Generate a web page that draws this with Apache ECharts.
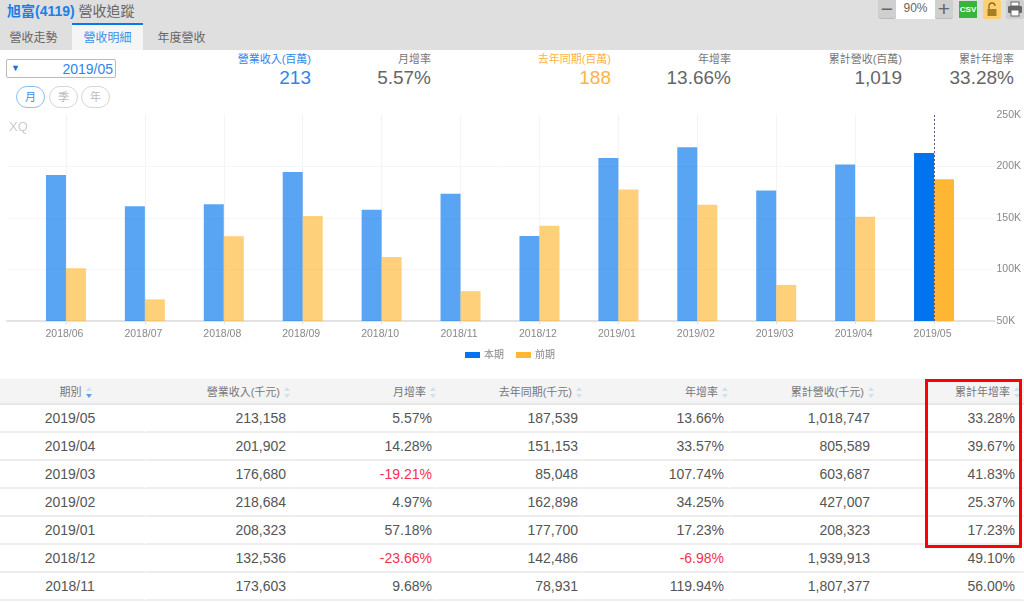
<!DOCTYPE html>
<html>
<head>
<meta charset="utf-8">
<script src="https://cdn.jsdelivr.net/npm/echarts@6/dist/echarts.min.js"></script>
<style>
html, body { margin: 0; padding: 0; background: #fff; }
body { width: 1024px; height: 602px; overflow: hidden; position: relative; color: #555;
	font-family: "Liberation Sans", "Noto Sans CJK TC", sans-serif; }
.abs { position: absolute; white-space: nowrap; }
#top { left: 0; top: 0; width: 1024px; height: 50px; background: #dfdfdf; }
#title { left: 7px; top: 1px; font-size: 14px; line-height: 20px; color: #666; }
#title b { color: #1a7fe8; font-weight: bold; }
.tab { top: 25px; height: 25px; line-height: 26px; font-size: 12px; color: #666; text-align: center; }
#tabOn { left: 72px; top: 23px; width: 71px; height: 25px; background: #f5f5f5; border-top: 2px solid #0a78ec; color: #3c8fe8; }
.btn { top: 0; height: 18px; line-height: 17px; text-align: center; background: #cfcfcf; border-radius: 0 0 3px 3px; border-bottom: 1px solid #bbb; }
#datebox { left: 6px; top: 59px; width: 106px; height: 17px; padding-right: 2px; border: 1px solid #bbb; border-radius: 2px; color: #2f86ea;
	font-size: 14px; line-height: 18px; text-align: right; }
#datebox span { position: absolute; left: 4px; top: 0; font-size: 9px; line-height: 16px; color: #1a6fd8; }
.pill { top: 86px; width: 27px; height: 20px; line-height: 20px; border: 1px solid #d6d6d6; border-radius: 11px; font-size: 11px; color: #bbb; text-align: center; }
.kl { top: 51px; font-size: 11px; line-height: 16px; color: #777; text-align: right; }
.kv { top: 67px; font-size: 19px; line-height: 22px; color: #666; text-align: right; }
#chart { left: 0; top: 108px; width: 1024px; height: 262px; }
#tbl { left: 0; top: 379px; border-collapse: separate; border-spacing: 0; table-layout: fixed; width: 1024px; }
#tbl th { height: 24px; padding: 0 1px 0 0; background: #f4f4f4; border-bottom: 2px solid #e8e8e8; font-size: 11px; font-weight: normal; color: #777; text-align: right; }
#tbl td { height: 26px; padding: 0 4px 0 0; border-bottom: 2px solid #eeeeee; border-right: 1px solid #fff; font-size: 14px; color: #555; text-align: right; }
#tbl th:first-child { text-align: center; padding: 0 0 0 6px; }
#tbl td:first-child { text-align: center; padding: 0 4px 0 0; }
#tbl th:last-child { padding-right: 4px; }
#tbl td:last-child { padding-right: 8px; }
#tbl td.neg { color: #f5304f; }
.sort { display: inline-block; width: 6px; height: 11px; position: relative; margin-left: 4px; vertical-align: -2px; }
.sort:before, .sort:after { content: ""; position: absolute; left: 0; border-left: 3px solid transparent; border-right: 3px solid transparent; }
.sort:before { top: 0; border-bottom: 4px solid #cfe0f0; }
.sort:after { bottom: 0; border-top: 4px solid #cfe0f0; }
.sort.on:after { border-top-color: #5f9fdc; }
#redbox { left: 925px; top: 379px; width: 91px; height: 163px; border: 3px solid #f00; }
</style>
</head>
<body>
<div class="abs" id="top"></div>
<div class="abs" id="title"><b>旭富(4119)</b> 營收追蹤</div>
<div class="abs tab" style="left:9px;width:49px">營收走勢</div>
<div class="abs tab" id="tabOn">營收明細</div>
<div class="abs tab" style="left:157px;width:49px">年度營收</div>

<div class="abs btn" style="left:878px;width:18px;font-size:21px;color:#666">−</div>
<div class="abs" style="left:896px;top:0;width:39px;height:19px;background:#fff;text-align:center;font-size:12px;line-height:16px;color:#666">90%</div>
<div class="abs btn" style="left:935px;width:18px;font-size:21px;color:#666">+</div>
<div class="abs" style="left:959px;top:1px;width:18px;height:17px;background:#35b53a;color:#fff;font-size:8px;font-weight:bold;text-align:center;line-height:18px">CSV</div>
<svg class="abs" style="left:983px;top:0" width="18" height="19"><rect width="18" height="19" rx="2" fill="#ffcf70"/><path d="M6 9V6a3 3 0 0 1 6 0" fill="none" stroke="#8a6a20" stroke-width="1.3"/><rect x="4.5" y="9" width="9" height="7" fill="#a67f25"/></svg>
<svg class="abs" style="left:1006px;top:0" width="18" height="19"><rect width="18" height="19" rx="2" fill="#cfcfcf"/><rect x="5" y="2" width="8" height="4" fill="#fff" stroke="#666"/><rect x="2" y="6" width="14" height="7" rx="1" fill="#666"/><rect x="5" y="10" width="8" height="6" fill="#fff" stroke="#666"/></svg>

<div class="abs" id="datebox"><span>▼</span>2019/05</div>
<div class="abs pill" style="left:16px;border-color:#8fbdf0;color:#3c8fe8">月</div>
<div class="abs pill" style="left:49px">季</div>
<div class="abs pill" style="left:81px">年</div>
<div id="kpis"></div>
<div class="abs" id="chart"></div>
<table class="abs" id="tbl"></table>
<div class="abs" id="redbox"></div>

<script>
'use strict';

var months = ['2018/06', '2018/07', '2018/08', '2018/09', '2018/10', '2018/11', '2018/12', '2019/01', '2019/02', '2019/03', '2019/04', '2019/05'];
var current = [191700, 161300, 163300, 194700, 158100, 173603, 132536, 208323, 218684, 176680, 201902, 213158];
var previous = [101100, 71000, 132200, 152000, 112100, 78931, 142486, 177700, 162898, 85048, 151153, 187539];
var yTicks = {min: 50000, max: 250000, interval: 50000};

var kpiLabels = ['營業收入(百萬)', '月增率', '去年同期(百萬)', '年增率', '累計營收(百萬)', '累計年增率'];
var kpiValues = ['213', '5.57%', '188', '13.66%', '1,019', '33.28%'];
var kpiRight = [311, 431, 611, 731, 902, 1014];
var kpiColors = ['#2f86ea', null, '#ffb347', null, null, null];

var headers = ['期別', '營業收入(千元)', '月增率', '去年同期(千元)', '年增率', '累計營收(千元)', '累計年增率'];
var colWidths = [145, 146, 146, 146, 146, 146, 149];
var periods = ['2019/05', '2019/04', '2019/03', '2019/02', '2019/01', '2018/12', '2018/11'];
var revenue = ['213,158', '201,902', '176,680', '218,684', '208,323', '132,536', '173,603'];
var momRate = ['5.57%', '14.28%', '-19.21%', '4.97%', '57.18%', '-23.66%', '9.68%'];
var lastYear = ['187,539', '151,153', '85,048', '162,898', '177,700', '142,486', '78,931'];
var yoyRate = ['13.66%', '33.57%', '107.74%', '34.25%', '17.23%', '-6.98%', '119.94%'];
var cumRevenue = ['1,018,747', '805,589', '603,687', '427,007', '208,323', '1,939,913', '1,807,377'];
var cumRate = ['33.28%', '39.67%', '41.83%', '25.37%', '17.23%', '49.10%', '56.00%'];

var kpiHtml = '';
for (var k = 0; k < kpiLabels.length; k++) {
	var style = 'right:' + (1024 - kpiRight[k]) + 'px;' + (kpiColors[k] ? 'color:' + kpiColors[k] : '');
	kpiHtml += '<div class="abs kl" style="' + style + '">' + kpiLabels[k] + '</div>';
	kpiHtml += '<div class="abs kv" style="' + style + '">' + kpiValues[k] + '</div>';
}
document.getElementById('kpis').innerHTML = kpiHtml;

var rows = '<colgroup>' + colWidths.map(function (w) { return '<col style="width:' + w + 'px">'; }).join('') + '</colgroup><tr>';
headers.forEach(function (h, i) {
	rows += '<th>' + h + '<span class="sort' + (i === 0 ? ' on' : '') + '"></span></th>';
});
rows += '</tr>';
var columns = [periods, revenue, momRate, lastYear, yoyRate, cumRevenue, cumRate];
periods.forEach(function (p, r) {
	rows += '<tr>';
	columns.forEach(function (col) {
		rows += '<td' + (col[r].charAt(0) === '-' ? ' class="neg"' : '') + '>' + col[r] + '</td>';
	});
	rows += '</tr>';
});
document.getElementById('tbl').innerHTML = rows;

// older months are faded, only the selected month is solid
function fade(values) {
	return values.map(function (v, i) {
		return {value: v, itemStyle: {opacity: i === values.length - 1 ? 1 : 0.65}};
	});
}

var option = {
	animation: false,
	textStyle: {fontFamily: '"Liberation Sans", "Noto Sans CJK TC", sans-serif'},
	title: {
		text: 'XQ', left: 4, top: 8,
		textStyle: {color: '#ccc', fontSize: 13, fontWeight: 'normal'}
	},
	legend: {
		data: ['本期', '前期'],
		icon: 'rect',
		left: 460, top: 237,
		itemWidth: 15, itemHeight: 6, itemGap: 12,
		textStyle: {color: '#888', fontSize: 10, padding: [0, 0, 0, -1]}
	},
	// outer grid holds the wide baseline and y scale, inner grid holds the bars
	grid: [
		{left: 7, width: 988, top: 7, height: 206},
		{left: 26.5, width: 947, top: 7, height: 206}
	],
	xAxis: [
		{
			gridIndex: 0, type: 'category', data: [],
			axisLine: {lineStyle: {color: '#e2e2e2', width: 2}},
			axisTick: {show: false}, axisLabel: {show: false}
		},
		{
			gridIndex: 1, type: 'category', data: months,
			axisLine: {show: false},
			axisTick: {show: true, alignWithLabel: true, length: 3, lineStyle: {color: '#ddd'}},
			axisLabel: {color: '#888', fontSize: 10.5, margin: 8, interval: 0, padding: [0, 3, 0, 0]},
			splitLine: {show: true, alignWithLabel: true, lineStyle: {color: '#f4f4f4'}}
		}
	],
	yAxis: [
		{
			gridIndex: 0, type: 'value', position: 'right',
			min: yTicks.min, max: yTicks.max, interval: yTicks.interval,
			axisLine: {show: false}, axisTick: {show: false},
			axisLabel: {
				color: '#888', fontSize: 10.5, margin: 2, align: 'left', padding: [0, 0, 7, 0],
				formatter: function (v) { return v / 1000 + 'K'; }
			},
			splitLine: {show: true, showMaxLine: false, lineStyle: {color: '#f6f6f6'}}
		},
		{
			gridIndex: 1, type: 'value', show: false,
			min: yTicks.min, max: yTicks.max, interval: yTicks.interval,
			splitLine: {show: false}
		}
	],
	series: [
		{
			name: '本期', type: 'bar', xAxisIndex: 1, yAxisIndex: 1,
			barWidth: 20, barGap: 0,
			itemStyle: {color: '#0074ee'},
			data: fade(current)
		},
		{
			name: '前期', type: 'bar', xAxisIndex: 1, yAxisIndex: 1,
			barWidth: 20, barGap: 0,
			itemStyle: {color: '#ffb733'},
			data: fade(previous)
		},
		{ // For the selected month marker, a line series has no bar offset
			name: 'pointer', type: 'line', xAxisIndex: 1, yAxisIndex: 1,
			data: [],
			markLine: {
				silent: true, symbol: 'none', label: {show: false},
				lineStyle: {color: '#5a5a80', type: [2, 2], width: 1},
				data: [{xAxis: months[months.length - 1]}]
			}
		}
	]
};

var myChart = echarts.init(document.getElementById('chart'));
myChart.setOption(option);
</script>
</body>
</html>
